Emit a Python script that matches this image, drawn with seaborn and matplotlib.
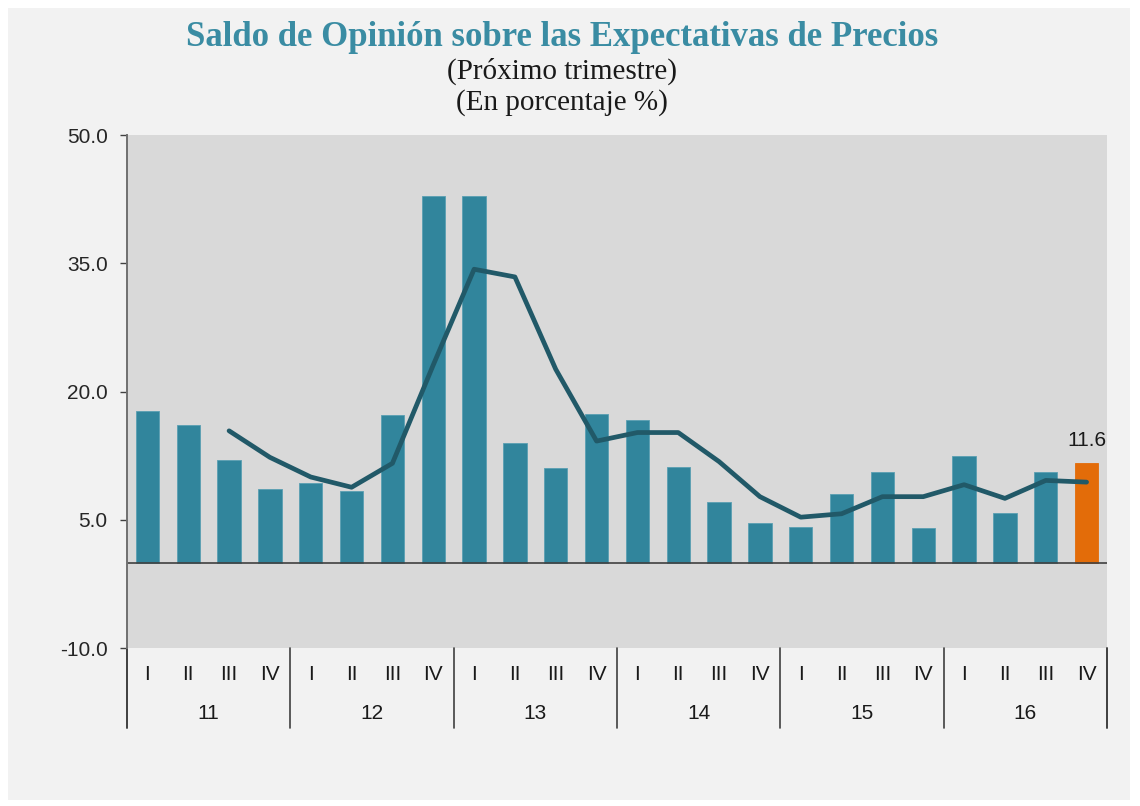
import matplotlib.pyplot as plt
import matplotlib.transforms as mtransforms
from matplotlib.patches import Rectangle
import seaborn as sns
import pandas as pd

# Data
years = ['11', '12', '13', '14', '15', '16']
quarters = ['I', 'II', 'III', 'IV']
saldo = [17.7, 16.1, 12.0, 8.6, 9.3, 8.4, 17.3, 42.9,
         42.9, 14.0, 11.1, 17.4, 16.7, 11.2, 7.1, 4.6,
         4.2, 8.0, 10.6, 4.0, 12.5, 5.8, 10.6, 11.6]
# moving average line, starts at 2011 III
promedio = [15.4, 12.3, 10.0, 8.8, 11.6, 23.1,
            34.3, 33.4, 22.6, 14.2, 15.2, 15.2, 11.8, 7.7,
            5.3, 5.7, 7.7, 7.7, 9.1, 7.5, 9.6, 9.4]

teal = '#31859c'
orange = '#e36c09'
line_col = '#215968'

df = pd.DataFrame({'pos': range(len(saldo)), 'saldo': saldo})
df_line = pd.DataFrame({'pos': range(2, 2 + len(promedio)), 'prom': promedio})

sns.set_style('white')
plt.rcParams['font.family'] = ['Liberation Sans', 'DejaVu Sans']

fig = plt.figure(figsize=(11.4, 8.06), dpi=100)
fig.patch.set_facecolor('white')
fig.patches.append(Rectangle((8 / 1140, 6 / 806), 1122 / 1140, 792 / 806,
                             transform=fig.transFigure, facecolor='#f2f2f2',
                             edgecolor='none', zorder=-10))
ax = fig.add_axes([127 / 1140, 1 - 648 / 806, 980 / 1140, 513 / 806])
ax.set_facecolor('#d9d9d9')

sns.barplot(data=df, x='pos', y='saldo', color=teal, width=0.57,
            saturation=1, ax=ax, zorder=2, edgecolor='#5a9fb2', linewidth=0.6)
ax.patches[-1].set_facecolor(orange)
ax.patches[-1].set_edgecolor(orange)
sns.lineplot(data=df_line, x='pos', y='prom', color=line_col, linewidth=3.4,
             ax=ax, zorder=3)

ax.axhline(0, color='#404040', linewidth=1.2, zorder=2.5)

ax.set_xlim(-0.5, len(saldo) - 0.5)
ax.set_ylim(-10, 50)
ax.set_yticks([-10, 5, 20, 35, 50])
ax.set_yticklabels([f'{v:.1f}' for v in [-10, 5, 20, 35, 50]], fontsize=15)
ax.tick_params(axis='y', length=5, width=1, color='#404040', pad=9, left=True)
ax.set_xticks([])
ax.set_xlabel('')
ax.set_ylabel('')
for s in ['top', 'right', 'bottom']:
    ax.spines[s].set_visible(False)
ax.spines['left'].set_color('#707070')
ax.spines['left'].set_linewidth(1.4)

# value label on last bar
ax.text(len(saldo) - 1, saldo[-1] + 1.6, f'{saldo[-1]:.1f}', ha='center',
        va='bottom', fontsize=15, color='#1a1a1a')

# two level category axis
trans = mtransforms.blended_transform_factory(ax.transData, ax.transAxes)
for i in range(len(saldo)):
    ax.text(i, -0.051, quarters[i % 4], transform=trans, ha='center',
            va='center', fontsize=15, color='#1a1a1a')
for j, yr in enumerate(years):
    ax.text(j * 4 + 1.5, -0.127, yr, transform=trans, ha='center',
            va='center', fontsize=15, color='#1a1a1a')
for k in range(len(years) + 1):
    ax.plot([k * 4 - 0.5, k * 4 - 0.5], [0, -0.156], transform=trans,
            color='#404040', linewidth=1.2 if 0 < k < len(years) else 1.4,
            clip_on=False)

serif = ['Liberation Serif', 'DejaVu Serif']
fig.text(562 / 1140, 1 - 37 / 806, 'Saldo de Opinión sobre las Expectativas de Precios',
         ha='center', va='center', fontsize=25, fontweight='bold',
         color='#3a8ca3', family=serif)
fig.text(562 / 1140, 1 - 71 / 806, '(Próximo trimestre)', ha='center',
         va='center', fontsize=21, color='#1a1a1a', family=serif)
fig.text(562 / 1140, 1 - 103 / 806, '(En porcentaje %)', ha='center',
         va='center', fontsize=21, color='#1a1a1a', family=serif)

fig.savefig('out.png', dpi=100)
